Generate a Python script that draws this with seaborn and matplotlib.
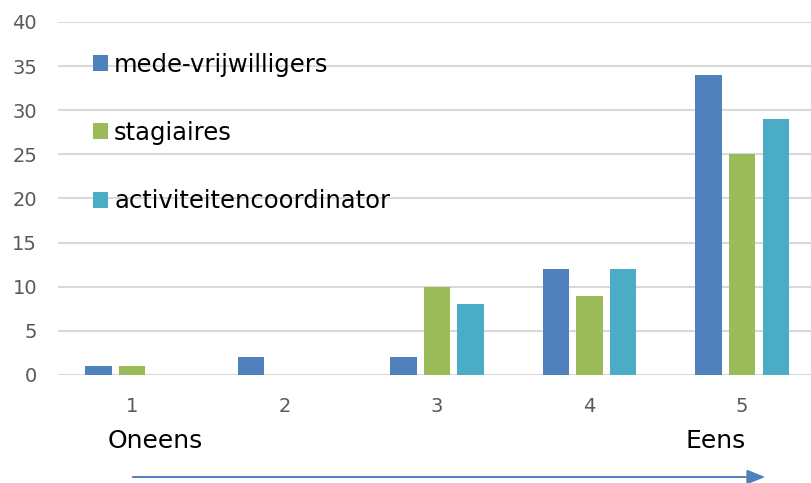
import pandas as pd
import seaborn as sns
import matplotlib.pyplot as plt
from matplotlib.patches import FancyArrowPatch

# Data
scores = ["1", "2", "3", "4", "5"]
vrijwilligers = [1, 2, 2, 12, 34]
stagiaires = [1, 0, 10, 9, 25]
coordinator = [0, 0, 8, 12, 29]
series_names = ["mede-vrijwilligers", "stagiaires", "activiteitencoordinator"]
colors = ["#4f81bd", "#9bbb59", "#4bacc6"]

df = pd.DataFrame({
    "score": scores * 3,
    "aantal": vrijwilligers + stagiaires + coordinator,
    "groep": [series_names[0]] * 5 + [series_names[1]] * 5 + [series_names[2]] * 5,
})

sns.set_style("white")
plt.rcParams['font.family'] = ['DejaVu Sans']

fig = plt.figure(figsize=(8.11, 4.83), dpi=100)
ax = fig.add_axes([58 / 811, 1 - 375 / 483, 1 - 58 / 811, (375 - 22) / 483])

sns.barplot(data=df, x="score", y="aantal", hue="groep", palette=colors,
            width=0.66, gap=0.22, saturation=1, linewidth=0, ax=ax)

ax.set_xlim(-0.485, 4.452)
ax.set_ylim(0, 40)
ax.set_yticks(range(0, 41, 5))
ax.yaxis.grid(True, color="#d9d9d9", linewidth=1.5)
ax.set_axisbelow(True)
for s in ax.spines.values():
    s.set_visible(False)
ax.set_xlabel("")
ax.set_ylabel("")
ax.tick_params(axis="y", length=0, pad=15, labelsize=14, labelcolor="#595959")
ax.tick_params(axis="x", length=0, pad=16, labelsize=14, labelcolor="#595959")

handles, labels = ax.get_legend_handles_labels()
leg = ax.legend(handles, labels, loc="upper left", bbox_to_anchor=(0.017, 0.975),
                frameon=False, fontsize=17.5, handlelength=0.63, handleheight=0.63,
                handletextpad=0.25, labelspacing=1.82)
for t in leg.get_texts():
    t.set_color("black")

fig.text(108 / 811, 1 - 441 / 483, "Oneens", fontsize=18, va="center", ha="left", color="black")
fig.text(746 / 811, 1 - 441 / 483, "Eens", fontsize=18, va="center", ha="right", color="black")

arrow = FancyArrowPatch((130 / 811, 1 - 477 / 483), (768 / 811, 1 - 477 / 483),
                        transform=fig.transFigure, arrowstyle="-|>,head_length=5.5,head_width=2.2",
                        color="#4f81bd", linewidth=1.4, mutation_scale=2)
fig.add_artist(arrow)

fig.savefig("out.png", dpi=100)
